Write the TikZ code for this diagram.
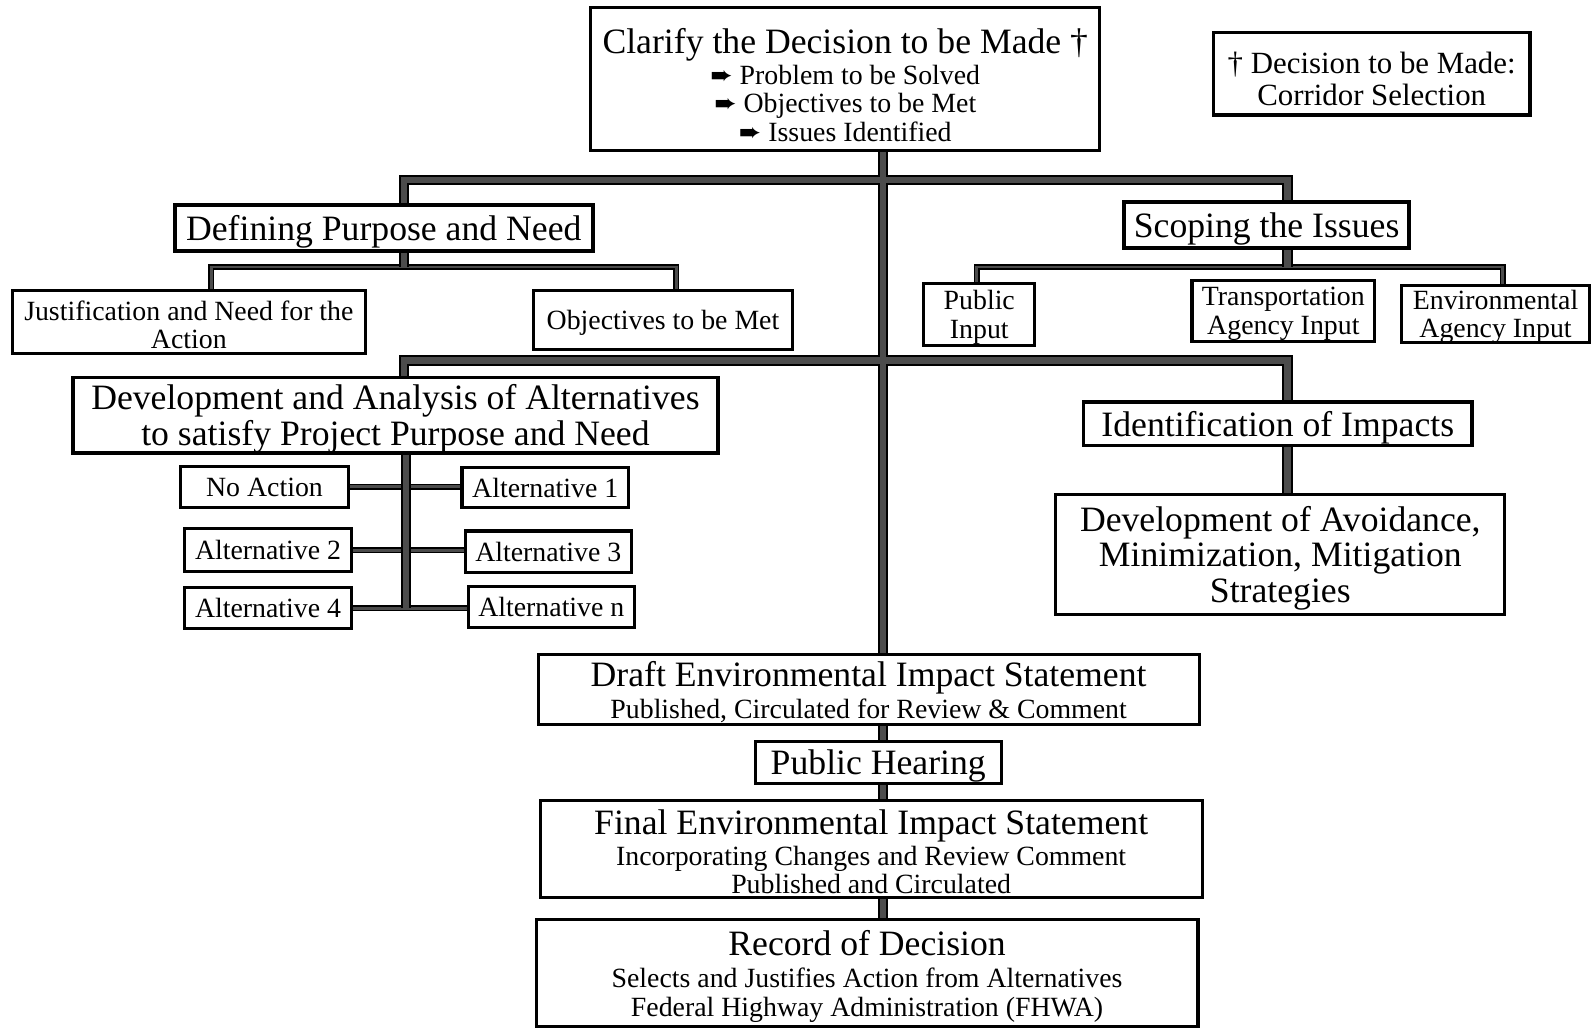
\documentclass[tikz,border=0pt]{standalone}
\usepackage{fontspec}
\setmainfont{Liberation Serif}
\newfontfamily\arrowfont{DejaVu Sans}
\usetikzlibrary{backgrounds}
\newcommand{\bigfont}{\fontsize{20}{20}\selectfont}
\newcommand{\notefont}{\fontsize{17.3}{17.6}\selectfont}
\newcommand{\smallfont}{\fontsize{15.6}{16}\selectfont}
\newcommand{\pointer}{{\arrowfont\fontsize{15}{15}\selectfont ➨}}

\begin{document}
\begin{tikzpicture}[x=0.02cm,y=-0.02cm,
  box/.style={draw,line width=1.7pt,fill=white,align=center,inner sep=1pt,text depth=0pt,font=\smallfont},
  headbox/.style={box,font=\bigfont},
  heavybox/.style={headbox,line width=2.4pt},
  link/.style={draw=black,line width=0.9pt,double=black!70,double distance=1.6pt},
  trunk/.style={draw=black,line width=1.1pt,double=black!70,double distance=3.5pt}]
\useasboundingbox (0,0) rectangle (1568,1013);
\node[box,minimum width=10.02cm,minimum height=2.82cm] (clarify) at (832.5,77.5) {{\bigfont\rule{0pt}{21pt}Clarify the Decision to be Made †}\\[1pt] \pointer\ Problem to be Solved\\ \pointer\ Objectives to be Met\\ \pointer\ Issues Identified};
\node[box,line width=2pt,font=\notefont,minimum width=6.24cm,minimum height=1.62cm] (note) at (1351,72.5) {\rule{0pt}{17.8pt}† Decision to be Made:\\Corridor Selection};
\node[heavybox,minimum width=8.24cm,minimum height=0.9cm] (defining) at (378,224.5) {Defining Purpose and Need};
\node[heavybox,minimum width=5.62cm,minimum height=0.9cm] (scoping) at (1247.5,221.5) {Scoping the Issues};
\node[box,minimum width=6.96cm,minimum height=1.24cm] (justif) at (186,317) {\rule{0pt}{14pt}Justification and Need for the\\Action};
\node[box,minimum width=5.12cm,minimum height=1.16cm] (objectives) at (653,315) {Objectives to be Met};
\node[box,minimum width=2.18cm,minimum height=1.22cm] (public) at (964.5,309.5) {Public\\Input};
\node[box,minimum width=3.6cm,minimum height=1.2cm] (transp) at (1264,306) {Transportation\\Agency Input};
\node[box,minimum width=3.72cm,minimum height=1.12cm] (environ) at (1473,309) {Environmental\\Agency Input};
\node[headbox,line width=2pt,minimum width=12.7cm,minimum height=1.48cm] (develop) at (389.5,409) {Development and Analysis of Alternatives\\to satisfy Project Purpose and Need};
\node[headbox,line width=2pt,minimum width=7.66cm,minimum height=0.86cm] (identif) at (1258.5,417.5) {Identification of Impacts};
\node[headbox,minimum width=8.84cm,minimum height=2.36cm] (avoid) at (1261,546) {Development of Avoidance,\\Minimization, Mitigation\\Strategies};
\node[box,minimum width=3.3cm,minimum height=0.82cm] (noaction) at (260.5,479.5) {No Action};
\node[box,minimum width=3.28cm,minimum height=0.8cm] (alt1) at (537,480) {Alternative 1};
\node[box,minimum width=3.28cm,minimum height=0.84cm] (alt2) at (264,542) {Alternative 2};
\node[box,minimum width=3.28cm,minimum height=0.82cm] (alt3) at (540,543.5) {Alternative 3};
\node[box,minimum width=3.28cm,minimum height=0.8cm] (alt4) at (264,599) {Alternative 4};
\node[box,minimum width=3.28cm,minimum height=0.8cm] (altn) at (543,598) {Alternative n};
\node[box,minimum width=13.02cm,minimum height=1.38cm] (draft) at (855.5,679.5) {{\bigfont Draft Environmental Impact Statement}\\[2pt] Published, Circulated for Review \& Comment};
\node[headbox,minimum width=4.84cm,minimum height=0.84cm] (hearing) at (865,751) {Public Hearing};
\node[box,minimum width=13.04cm,minimum height=1.92cm] (final) at (858,836) {{\bigfont\rule{0pt}{17.5pt}Final Environmental Impact Statement}\\[1pt] Incorporating Changes and Review Comment\\Published and Circulated};
\node[box,minimum width=13.04cm,minimum height=2.1cm] (record) at (854,958.5) {{\bigfont Record of Decision}\\[2pt] Selects and Justifies Action from Alternatives\\Federal Highway Administration (FHWA)};
\coordinate (tx) at (870,0);
\coordinate (lx) at (398,0);
\coordinate (rx) at (1268,0);
\coordinate (ax) at (400,0);
\coordinate (bar1) at (0,177);
\coordinate (bar2) at (0,355);
\coordinate (sub) at (0,263);
\coordinate (jx) at (208,263);
\coordinate (ox) at (666,263);
\coordinate (px) at (962,263);
\coordinate (ex) at (1480,263);
\begin{scope}[on background layer]
\draw[link] (justif.north -| jx) -- (jx) -- (ox) -- (objectives.north -| ox)
  (public.north -| px) -- (px) -- (ex) -- (environ.north -| ex)
  (noaction.east) -- (noaction.east -| alt1.west)
  (alt2.east) -- (alt2.east -| alt3.west)
  (alt4.east) -- (alt4.east -| altn.west);
\draw[trunk] (clarify.south -| tx) -- (draft.north -| tx)
  (defining.north -| lx) |- (bar1 -| rx) -- (scoping.north -| rx)
  (develop.north -| lx) |- (bar2 -| rx) -- (identif.north -| rx)
  (identif.south -| rx) -- (avoid.north -| rx)
  (defining.south -| lx) -- (sub -| lx)
  (scoping.south -| rx) -- (sub -| rx)
  (develop.south -| ax) -- (ax |- alt4.east)
  (draft.south -| tx) -- (hearing.north -| tx)
  (hearing.south -| tx) -- (final.north -| tx)
  (final.south -| tx) -- (record.north -| tx);
\end{scope}
\end{tikzpicture}
\end{document}
